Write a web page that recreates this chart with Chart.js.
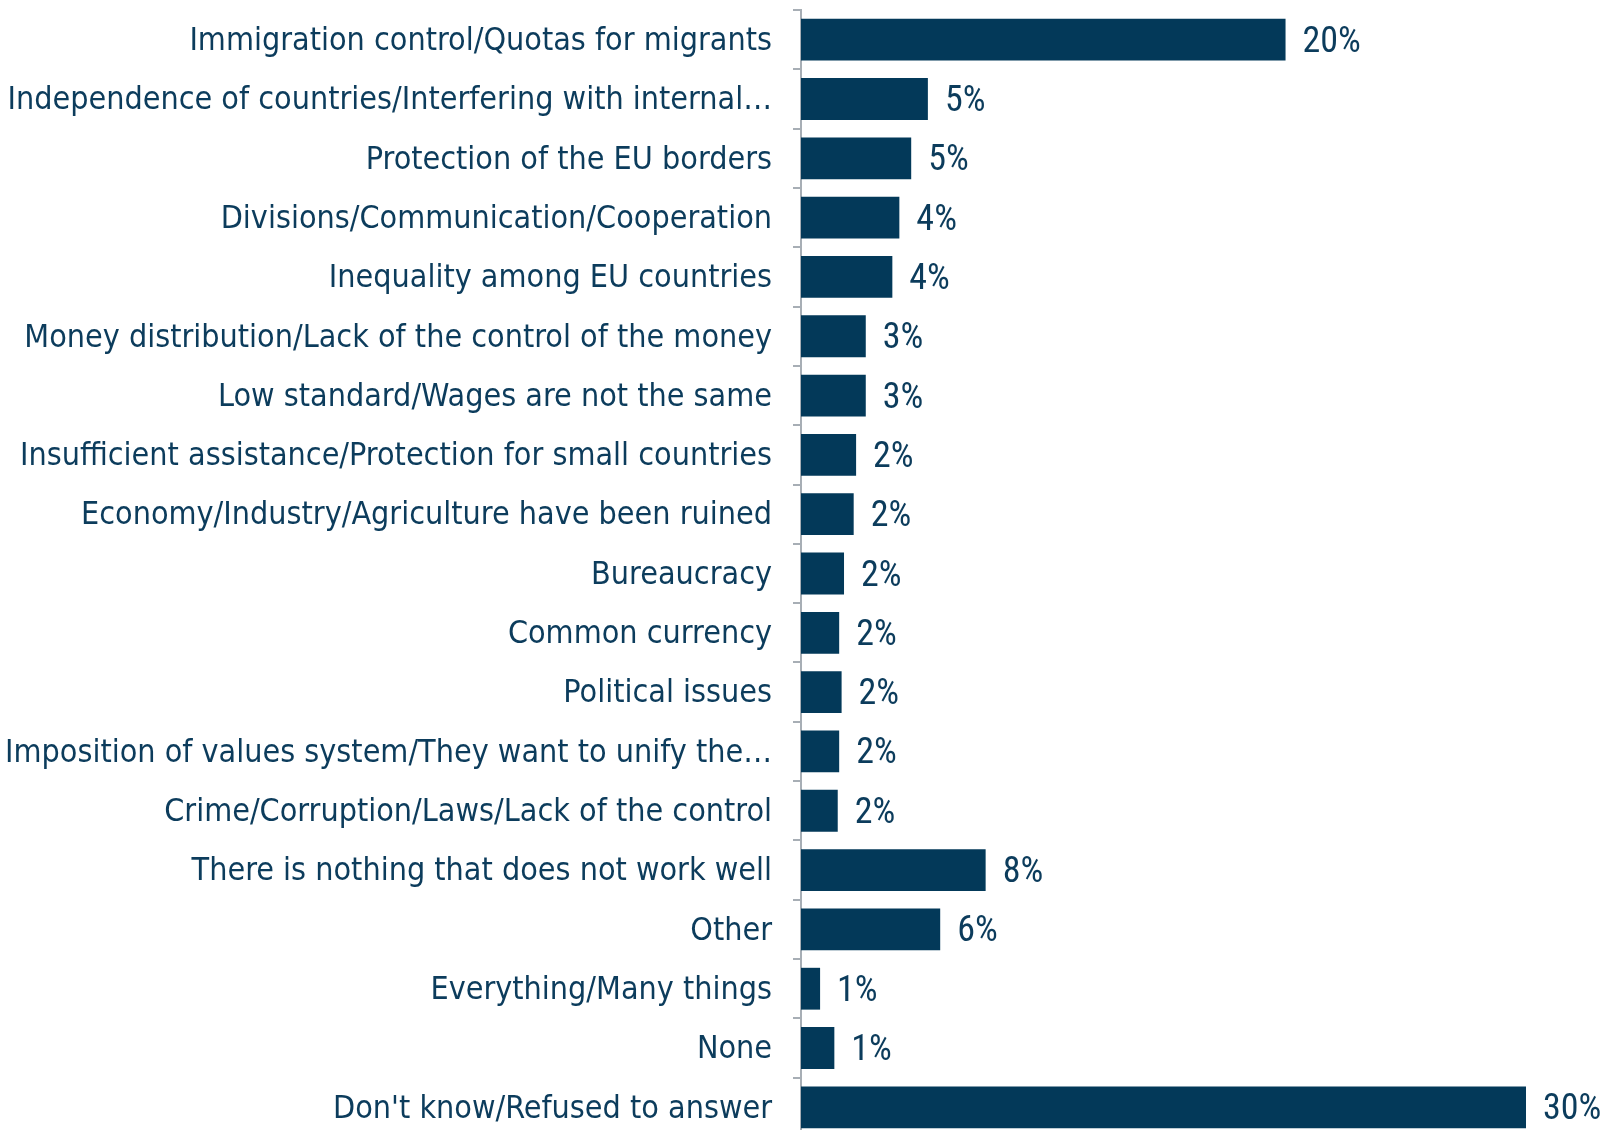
<!DOCTYPE html>
<html>
<head>
<meta charset="utf-8">
<script src="https://cdn.jsdelivr.net/npm/chart.js@4/dist/chart.umd.min.js"></script>
<style>
html,body{margin:0;padding:0;background:#fff;overflow:hidden;width:1614px;height:1130px;}
canvas{display:block;}
</style>
</head>
<body>
<canvas id="chart" width="1614" height="1137"></canvas>
<script>
const categories = [
  "Immigration control/Quotas for migrants",
  "Independence of countries/Interfering with internal\u2026",
  "Protection of the EU borders",
  "Divisions/Communication/Cooperation",
  "Inequality among EU countries",
  "Money distribution/Lack of the control of the money",
  "Low standard/Wages are not the same",
  "Insufficient assistance/Protection for small countries",
  "Economy/Industry/Agriculture have been ruined",
  "Bureaucracy",
  "Common currency",
  "Political issues",
  "Imposition of values system/They want to unify the\u2026",
  "Crime/Corruption/Laws/Lack of the control",
  "There is nothing that does not work well",
  "Other",
  "Everything/Many things",
  "None",
  "Don't know/Refused to answer"
];
const values = [20.05, 5.25, 4.56, 4.07, 3.78, 2.68, 2.68, 2.28, 2.18, 1.78, 1.58, 1.68, 1.58, 1.52, 7.64, 5.76, 0.79, 1.38, 30.0];
const valueLabels = ["20%","5%","5%","4%","4%","3%","3%","2%","2%","2%","2%","2%","2%","2%","8%","6%","1%","1%","30%"];

const TEXT = '#0c3c5c';
const BAR = '#033959';
const AXIS = '#a7aeb5';

const valueLabelPlugin = {
  id: 'valueLabels',
  afterDatasetsDraw(chart) {
    const ctx = chart.ctx;
    const meta = chart.getDatasetMeta(0);
    ctx.save();
    ctx.font = '36px "Roboto Condensed", "DejaVu Sans Condensed", sans-serif';
    ctx.fillStyle = TEXT;
    ctx.textAlign = 'left';
    ctx.textBaseline = 'middle';
    meta.data.forEach((el, i) => {
      ctx.fillText(valueLabels[i], el.x + 17, el.y + 3);
    });
    ctx.restore();
  }
};

new Chart(document.getElementById('chart'), {
  type: 'bar',
  data: {
    labels: categories,
    datasets: [{
      data: values,
      backgroundColor: BAR,
      borderWidth: 0,
      categoryPercentage: 1.0,
      barPercentage: 0.705
    }]
  },
  options: {
    indexAxis: 'y',
    responsive: false,
    maintainAspectRatio: false,
    animation: false,
    devicePixelRatio: 1,
    layout: { padding: { top: 10, right: 88, bottom: 0, left: 0 } },
    plugins: { legend: { display: false }, tooltip: { enabled: false } },
    scales: {
      x: { display: false, min: 0, max: 30 },
      y: {
        afterFit(scale) { scale.width = 801; scale.paddingTop = 0; scale.paddingBottom = 0; },
        grid: { display: true, drawOnChartArea: false, drawTicks: true, tickLength: 8, color: AXIS, lineWidth: 2, offset: true },
        border: { display: true, color: AXIS, width: 2 },
        ticks: {
          color: TEXT,
          padding: 21,
          labelOffset: 2,
          autoSkip: false,
          font: { family: '"DejaVu Sans Condensed", sans-serif', size: 32 }
        }
      }
    }
  },
  plugins: [valueLabelPlugin]
});
</script>
</body>
</html>
